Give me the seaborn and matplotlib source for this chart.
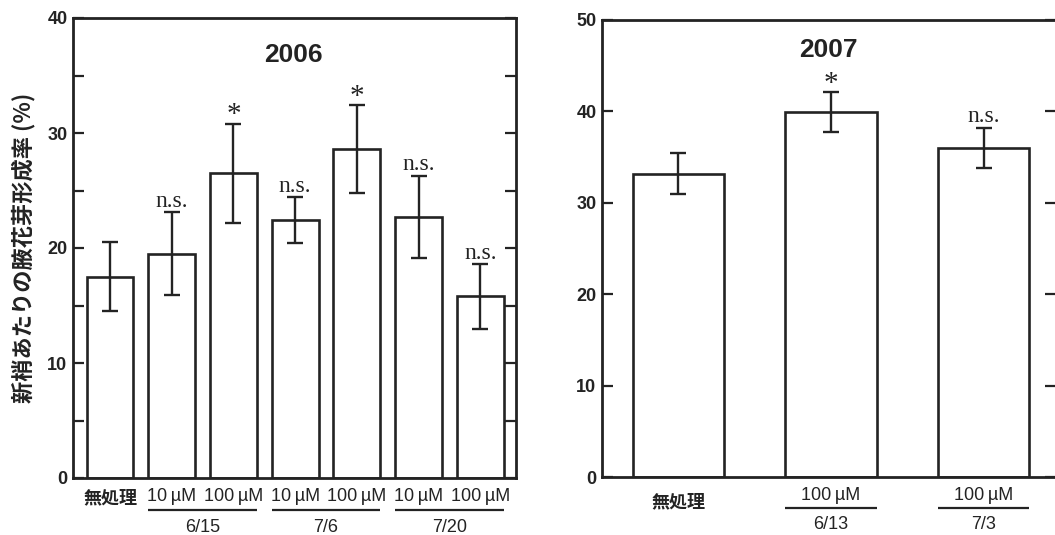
import numpy as np
import matplotlib
matplotlib.use("Agg")
import matplotlib.pyplot as plt
import matplotlib.transforms as mtransforms
from matplotlib.ticker import MultipleLocator
import seaborn as sns

# ---------------- data ----------------
treat_2006 = ["無処理", "10µM_6/15", "100µM_6/15", "10µM_7/6", "100µM_7/6", "10µM_7/20", "100µM_7/20"]
dose_2006 = ["無処理", "10\u2009µM", "100\u2009µM", "10\u2009µM", "100\u2009µM", "10\u2009µM", "100\u2009µM"]
mean_2006 = [17.5, 19.5, 26.5, 22.4, 28.6, 22.7, 15.8]
err_2006 = [3.0, 3.6, 4.3, 2.0, 3.8, 3.6, 2.8]
sig_2006 = ["", "n.s.", "*", "n.s.", "*", "n.s.", "n.s."]
dates_2006 = ["6/15", "7/6", "7/20"]
date_pairs_2006 = [(1, 2), (3, 4), (5, 6)]

treat_2007 = ["無処理", "100µM_6/13", "100µM_7/3"]
dose_2007 = ["無処理", "100\u2009µM", "100\u2009µM"]
mean_2007 = [33.2, 39.9, 36.0]
err_2007 = [2.2, 2.2, 2.2]
sig_2007 = ["", "*", "n.s."]
dates_2007 = ["6/13", "7/3"]
date_pairs_2007 = [(1, 1), (2, 2)]

ylabel = "新梢あたりの腋花芽形成率 (%)"

# ---------------- style ----------------
sns.set_theme(style="white")
plt.rcParams["font.family"] = ["Liberation Sans", "Noto Sans CJK JP", "DejaVu Sans"]
INK = "#232323"
W, H = 1055, 535
fig = plt.figure(figsize=(W / 100, H / 100), dpi=100)
fig.patch.set_facecolor("white")

ax1 = fig.add_axes([73 / W, 1 - 478 / H, (516 - 73) / W, (478 - 18) / H])
ax2 = fig.add_axes([602 / W, 1 - 477 / H, (1056 - 602) / W, (477 - 20) / H])

cjk = ["Noto Sans CJK JP", "DejaVu Sans"]
serif = ["Liberation Serif", "DejaVu Serif"]


def panel(ax, treat, dose, mean, err, sig, dates, pairs, width, xlim, ylim,
          major, minor, title, title_xy, cap, ul_y, date_y, cjk_pad):
    sns.barplot(x=treat, y=mean, ax=ax, color="white", saturation=1,
                edgecolor=INK, linewidth=1.9, width=width, errorbar=None)
    xs = np.arange(len(treat))
    ax.errorbar(xs, mean, yerr=err, fmt="none", ecolor=INK, elinewidth=1.7,
                capsize=cap, capthick=1.7, zorder=5)
    for x, m, e, s in zip(xs, mean, err, sig):
        if not s:
            continue
        off = 1 if s == "*" else 4
        fs = 21 if s == "*" else 17
        ax.annotate(s, (x, m + e), xytext=(0, off), textcoords="offset points",
                    ha="center", va="baseline", fontsize=fs, family=serif,
                    color=INK)
    ax.set_xlim(*xlim)
    ax.set_ylim(*ylim)
    ax.yaxis.set_major_locator(MultipleLocator(major))
    if minor:
        ax.yaxis.set_minor_locator(MultipleLocator(minor))
    ax.tick_params(axis="y", which="both", direction="in", length=8, width=1.6,
                   color=INK, left=True, right=True, labelsize=13, pad=4,
                   labelcolor=INK)
    for lab in ax.get_yticklabels():
        lab.set_fontweight("bold")
    ax.tick_params(axis="x", length=0, pad=7.5, labelcolor=INK)
    ax.set_xticks(xs)
    ax.set_xticklabels(dose)
    for lab, d in zip(ax.get_xticklabels(), dose):
        if d == "無処理":
            lab.set_family(cjk)
            lab.set_fontweight("bold")
            lab.set_fontsize(13)
            lab.set_y(-cjk_pad)
        else:
            lab.set_fontsize(13)
    for sp in ax.spines.values():
        sp.set_visible(True)
        sp.set_color(INK)
        sp.set_linewidth(2.0)
    ax.set_xlabel("")
    ax.text(title_xy[0], title_xy[1], title, transform=ax.transAxes,
            ha="center", va="center", fontsize=19, fontweight="bold", color=INK)
    trans = mtransforms.blended_transform_factory(ax.transData, ax.transAxes)
    for (i, j), d in zip(pairs, dates):
        ax.plot([i - width / 2, j + width / 2], [ul_y, ul_y], transform=trans,
                color=INK, lw=1.6, clip_on=False, solid_capstyle="butt")
        ax.text((i + j) / 2, date_y, d, transform=trans, ha="center",
                va="center", fontsize=13, color=INK)


panel(ax1, treat_2006, dose_2006, mean_2006, err_2006, sig_2006, dates_2006,
      date_pairs_2006, 0.76, (-0.6, 6.58), (0, 40), 10, 5, "2006",
      (0.497, 0.92), 6, -0.0696, -0.108, 0.0)
panel(ax2, treat_2007, dose_2007, mean_2007, err_2007, sig_2007, dates_2007,
      date_pairs_2007, 0.60, (-0.5, 2.475), (0, 50), 10, None, "2007",
      (0.498, 0.935), 5.5, -0.0672, -0.1035, 0.01)

ax1.set_ylabel(ylabel, family=cjk, fontweight="bold", fontsize=16, color=INK)
ax1.yaxis.set_label_coords(-0.085, 0.5)
ax2.set_ylabel("")

fig.savefig("out.png", dpi=100, facecolor="white")
